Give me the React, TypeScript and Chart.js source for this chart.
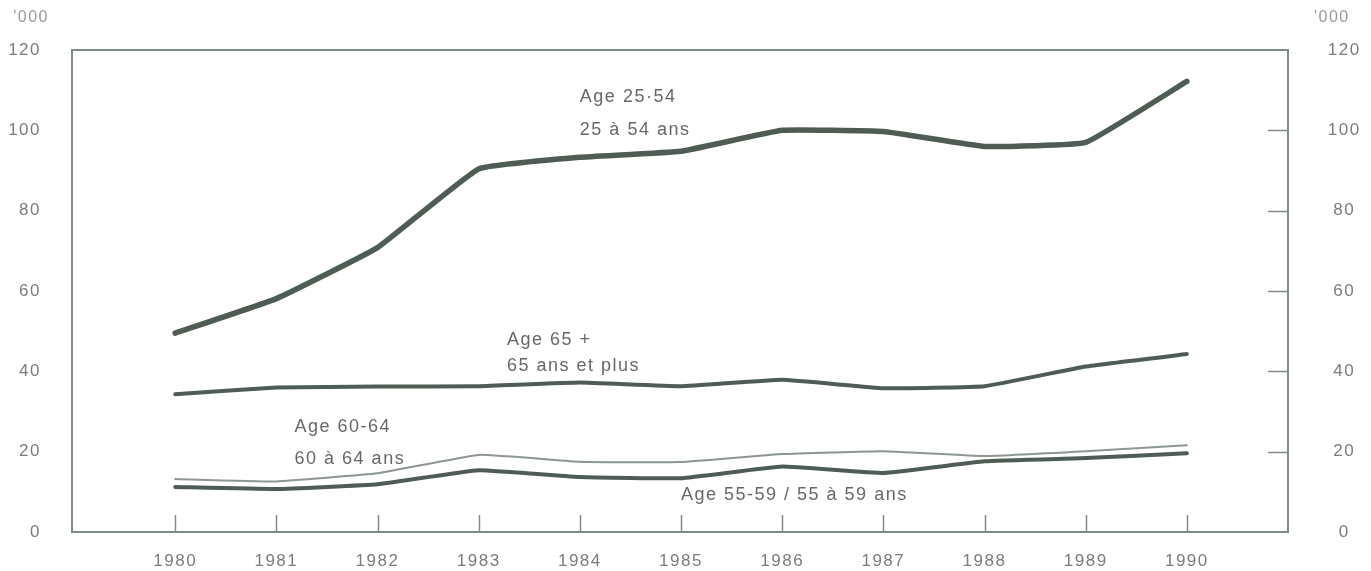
import React, { useEffect, useRef } from 'react';
import { Chart, registerables } from 'chart.js';

Chart.register(...registerables);

const years = [1980, 1981, 1982, 1983, 1984, 1985, 1986, 1987, 1988, 1989, 1990];
const age2554 = [49.5, 58.1, 70.8, 90.4, 93.3, 94.8, 100.0, 99.7, 96.0, 97.0, 112.2];
const age65plus = [34.3, 36.0, 36.2, 36.3, 37.2, 36.3, 37.9, 35.8, 36.3, 41.2, 44.3];
const age6064 = [13.2, 12.6, 14.6, 19.2, 17.5, 17.4, 19.4, 20.1, 18.9, 20.1, 21.6];
const age5559 = [11.2, 10.7, 11.9, 15.4, 13.7, 13.4, 16.3, 14.7, 17.6, 18.4, 19.6];
const yTicks = [0, 20, 40, 60, 80, 100, 120];
const unitLabel = "'000";

// label anchors in data coordinates: [x year, y value line 1, y value line 2]
const labelTexts = [
  ['Age 25·54', '25 à 54 ans'],
  ['Age 65 +', '65 ans et plus'],
  ['Age 60-64', '60 à 64 ans'],
  ['Age 55-59 / 55 à 59 ans'],
];
const labelAnchors = [
  [1984.0, 108.3, 100.1],
  [1983.28, 47.7, 41.2],
  [1981.18, 26.1, 18.1],
  [1985.0, 9.2],
];

const LINE = '#4e5c54';
const THIN = '#8d978f';
const AXIS = '#7f8c84';
const TICK_TEXT = '#7c7c7c';
const NOTE_TEXT = '#686868';
const FONT = '"Liberation Sans", Arial, sans-serif';

const decor = {
  id: 'decor',
  beforeDraw(chart: any) {
    const ctx = chart.ctx;
    ctx.save();
    ctx.fillStyle = '#ffffff';
    ctx.fillRect(0, 0, chart.width, chart.height);
    ctx.restore();
    (ctx as any).letterSpacing = '1.5px';
  },
  afterDatasetsDraw(chart: any) {
    const ctx = chart.ctx;
    const a = chart.chartArea;
    const xs = chart.scales.x;
    const yl = chart.scales.y;
    const yr = chart.scales.y2;
    ctx.save();
    // box
    ctx.strokeStyle = AXIS;
    ctx.lineWidth = 2;
    ctx.strokeRect(a.left, a.top, a.right - a.left, a.bottom - a.top);
    // x inner ticks
    ctx.lineWidth = 1.5;
    years.forEach((yr0) => {
      const px = Math.round(xs.getPixelForValue(yr0)) + 0.5;
      ctx.beginPath();
      ctx.moveTo(px, a.bottom);
      ctx.lineTo(px, a.bottom - 17);
      ctx.stroke();
    });
    // right inner ticks
    yTicks.forEach((v) => {
      if (v === yTicks[0] || v === yTicks[yTicks.length - 1]) return;
      const py = Math.round(yr.getPixelForValue(v)) + 0.5;
      ctx.beginPath();
      ctx.moveTo(a.right - 20, py);
      ctx.lineTo(a.right, py);
      ctx.stroke();
    });
    // unit labels
    (ctx as any).letterSpacing = '1.5px';
    ctx.font = '16px ' + FONT;
    ctx.fillStyle = '#9a9a9a';
    ctx.textBaseline = 'middle';
    ctx.textAlign = 'right';
    ctx.fillText(unitLabel, yl.right - 23, 18);
    ctx.textAlign = 'left';
    ctx.fillText(unitLabel, yr.left + 26, 18);
    // series annotations
    ctx.font = '18px ' + FONT;
    ctx.fillStyle = NOTE_TEXT;
    ctx.textAlign = 'left';
    labelTexts.forEach((lines, i) => {
      const anc = labelAnchors[i];
      const px = xs.getPixelForValue(anc[0]);
      lines.forEach((t, j) => {
        const py = yl.getPixelForValue(anc[1 + j]);
        ctx.fillText(t, px, py);
      });
    });
    ctx.restore();
  },
};

export default function App() {
  const ref = useRef<HTMLCanvasElement | null>(null);
  useEffect(() => {
    if (!ref.current) return;
    const tickFont = { family: FONT, size: 17 };
    const fitY = (w: number) => (s: any) => {
      s.width = w;
      s.paddingTop = 0;
      s.paddingBottom = 0;
    };
    const chart = new Chart(ref.current, {
      type: 'line',
      data: {
        labels: years,
        datasets: [
          { label: 'Age 25-54', data: years.map((x, i) => ({ x, y: age2554[i] })), borderColor: LINE, borderWidth: 5.5 },
          { label: 'Age 65 +', data: years.map((x, i) => ({ x, y: age65plus[i] })), borderColor: LINE, borderWidth: 4 },
          { label: 'Age 60-64', data: years.map((x, i) => ({ x, y: age6064[i] })), borderColor: THIN, borderWidth: 2 },
          { label: 'Age 55-59', data: years.map((x, i) => ({ x, y: age5559[i] })), borderColor: LINE, borderWidth: 4 },
        ].map((d) => ({ ...d, fill: false, pointRadius: 0, tension: 0.1, borderCapStyle: 'round', borderJoinStyle: 'round' })) as any,
      },
      plugins: [decor],
      options: {
        responsive: false,
        animation: false,
        events: [],
        layout: { padding: { top: 50, left: 0, right: 0, bottom: 0 } },
        plugins: { legend: { display: false }, tooltip: { enabled: false }, title: { display: false } },
        scales: {
          x: {
            type: 'linear',
            min: 1978.98,
            max: 1991.0,
            grid: { display: false, drawTicks: false },
            border: { display: false },
            afterBuildTicks: (s: any) => { s.ticks = years.map((v) => ({ value: v })); },
            afterFit: (s: any) => { s.height = 39; s.paddingLeft = 0; s.paddingRight = 0; },
            ticks: { color: TICK_TEXT, font: tickFont, padding: 19, maxRotation: 0, autoSkip: false, callback: (v: any) => String(v) },
          },
          y: {
            type: 'linear',
            position: 'left',
            min: 0,
            max: 120,
            grid: { display: false, drawTicks: false },
            border: { display: false },
            afterBuildTicks: (s: any) => { s.ticks = yTicks.map((v) => ({ value: v })); },
            afterFit: fitY(72),
            ticks: { color: TICK_TEXT, font: tickFont, padding: 31, callback: (v: any) => String(v) },
          },
          y2: {
            type: 'linear',
            position: 'right',
            min: 0,
            max: 120,
            grid: { display: false, drawTicks: false },
            border: { display: false },
            afterBuildTicks: (s: any) => { s.ticks = yTicks.map((v) => ({ value: v })); },
            afterFit: fitY(83),
            ticks: { color: TICK_TEXT, font: tickFont, padding: 42, crossAlign: 'center', callback: (v: any) => String(v) },
          },
        },
      } as any,
    });
    return () => chart.destroy();
  }, []);
  return (
    <div style={{ position: 'absolute', left: 0, top: 0, width: 1371, height: 571, background: '#fff' }}>
      <canvas ref={ref} width={1371} height={571} />
    </div>
  );
}
